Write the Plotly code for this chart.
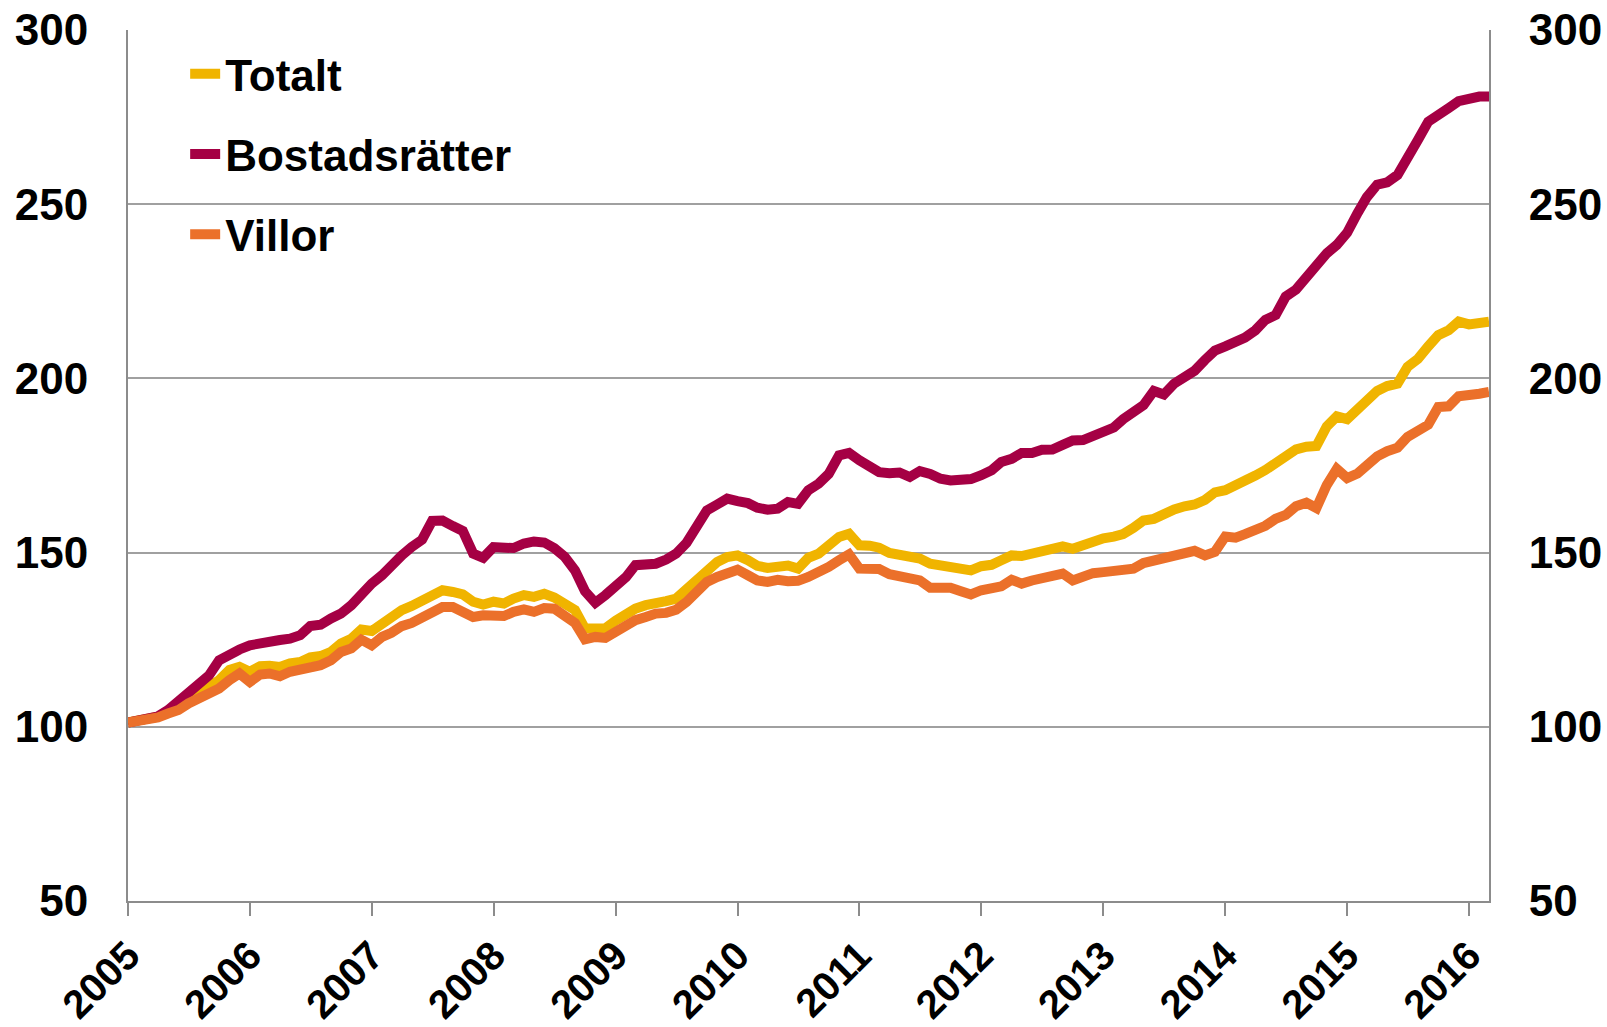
import pandas as pd
import plotly.graph_objects as go

# Monthly index values, Jan 2005 - Mar 2016
dates = pd.date_range("2005-01-01", periods=135, freq="MS")

totalt = [
    101.3, 101.8, 102.3, 102.9, 104.3, 105.3, 107.6, 109.1, 111.5, 113.4, 116.3, 117.2,
    115.8, 117.4, 117.5, 117.2, 118.2, 118.6, 119.9, 120.3, 121.5, 123.9, 125.3, 127.9,
    127.5, 129.8, 131.1, 133.5, 134.7, 136.3, 137.5, 139.2, 138.7, 138.0, 135.9, 135.1,
    135.9, 135.4, 136.8, 137.8, 137.3, 138.2, 137.1, 135.4, 133.5, 128.2, 128.3, 128.3,
    130.5, 132.5, 133.9, 134.9, 135.8, 136.1, 136.8, 139.7, 142.5, 145.4, 147.3, 148.7,
    149.2, 147.8, 146.2, 145.6, 146.3, 146.3, 145.4, 148.5, 149.7, 152.1, 154.5, 155.4,
    152.1, 152.0, 151.4, 149.9, 149.4, 148.9, 148.3, 146.8, 146.4, 146.4, 145.9, 144.9,
    146.1, 146.5, 147.8, 149.2, 149.0, 149.7, 150.7, 151.1, 151.8, 151.1, 152.3, 153.5,
    154.1, 154.6, 155.3, 157.1, 159.2, 159.7, 161.4, 162.4, 163.3, 163.8, 165.1, 167.3,
    167.9, 169.1, 170.4, 172.1, 173.7, 175.5, 177.8, 179.6, 180.4, 180.6, 186.2, 189.1,
    188.3, 190.8, 193.9, 196.4, 197.8, 198.5, 203.3, 205.6, 209.2, 212.4, 213.8, 216.3,
    215.5, 216.0, 216.3,
]

bostadsratter = [
    101.2, 101.6, 102.0, 103.0, 104.8, 107.2, 109.6, 112.4, 114.8, 119.1, 121.0, 122.2,
    123.4, 124.1, 124.5, 124.9, 125.3, 126.3, 128.9, 129.3, 131.1, 132.5, 134.9, 138.2,
    141.1, 143.5, 146.4, 149.2, 151.6, 153.7, 159.1, 159.2, 157.6, 156.2, 149.7, 148.5,
    151.6, 151.1, 151.3, 152.6, 153.2, 152.9, 151.3, 148.8, 144.9, 138.9, 135.6, 137.8,
    140.2, 143.0, 146.4, 146.5, 146.8, 148.0, 149.7, 152.8, 157.8, 162.1, 163.8, 165.5,
    164.8, 164.2, 162.9, 162.3, 162.6, 164.5, 164.0, 167.9, 169.8, 172.6, 177.9, 178.6,
    176.5, 174.7, 173.1, 172.8, 173.0, 171.7, 173.4, 172.6, 171.2, 170.7, 170.9, 171.1,
    172.2, 173.6, 176.0, 176.9, 178.6, 178.6, 179.5, 179.6, 180.9, 182.2, 182.3, 183.6,
    184.7, 185.9, 188.3, 190.3, 192.3, 196.4, 195.4, 198.5, 200.0, 202.2, 205.3, 208.0,
    209.2, 210.5, 211.7, 213.8, 216.8, 218.2, 223.5, 225.5, 229.1, 232.4, 235.9, 238.3,
    241.8, 247.4, 252.0, 255.6, 256.3, 258.4, 264.1, 268.4, 273.7, 276.0, 277.6, 279.6,
    280.6, 280.9, 280.9,
]

villor = [
    101.2, 101.7, 101.9, 102.7, 103.8, 104.8, 106.7, 108.1, 109.6, 111.0, 113.4, 115.3,
    112.9, 115.0, 115.3, 114.5, 115.8, 116.3, 117.4, 117.7, 119.1, 121.5, 122.5, 125.0,
    123.4, 125.8, 127.0, 128.9, 129.8, 131.5, 132.7, 134.4, 134.4, 133.0, 131.5, 132.0,
    132.0, 131.8, 133.0, 133.7, 133.0, 134.1, 133.9, 131.4, 129.8, 125.1, 125.8, 125.5,
    127.3, 129.1, 130.6, 131.5, 132.5, 132.7, 133.6, 135.8, 138.7, 141.6, 143.0, 144.4,
    145.1, 143.5, 142.0, 141.6, 142.2, 141.8, 141.9, 143.0, 144.2, 145.9, 147.8, 149.5,
    145.4, 145.4, 145.3, 143.8, 143.2, 143.0, 142.0, 139.9, 139.7, 139.9, 138.9, 138.0,
    139.2, 139.4, 140.3, 142.2, 141.1, 142.0, 142.8, 143.0, 144.0, 142.0, 143.3, 144.1,
    144.4, 144.6, 144.7, 145.4, 147.0, 147.8, 148.5, 149.5, 150.2, 150.5, 149.2, 150.2,
    154.6, 154.3, 155.3, 156.3, 157.7, 159.7, 160.8, 163.3, 164.3, 162.8, 169.4, 174.0,
    171.4, 172.7, 175.5, 177.6, 179.1, 180.1, 183.2, 184.7, 186.7, 191.8, 192.0, 194.9,
    194.9, 195.6, 196.1,
]

series_names = ["Totalt", "Bostadsrätter", "Villor"]
series_colors = ["#F0B400", "#A50044", "#EB702A"]
year_labels = [str(y) for y in range(2005, 2017)]
year_ticks = [f"{y}-01-01" for y in range(2005, 2017)]
y_ticks = [50, 100, 150, 200, 250, 300]

FONT = "Liberation Sans, Arial, sans-serif"
AXIS_GRAY = "#8C8C8C"

fig = go.Figure()

# invisible trace to activate right-hand axis
fig.add_trace(go.Scatter(
    x=dates, y=totalt, yaxis="y2", mode="lines",
    line=dict(color="rgba(0,0,0,0)", width=1),
    showlegend=False, hoverinfo="skip",
))

for name, color, vals in zip(series_names, series_colors, [totalt, bostadsratter, villor]):
    fig.add_trace(go.Scatter(
        x=dates, y=vals, mode="lines", name=name, legendgroup=name,
        line=dict(color=color, width=10),
    ))

ytickfont = dict(family=FONT, size=44, color="black", weight="bold")
xtickfont = dict(family=FONT, size=40, color="black", weight="bold")

fig.update_layout(
    width=1607, height=1027,
    margin=dict(l=128, r=118, t=30, b=126, autoexpand=False),
    paper_bgcolor="white", plot_bgcolor="white",
    showlegend=True,
    legend=dict(
        x=0.042, y=0.99, xanchor="left", yanchor="top",
        font=dict(family=FONT, size=44, color="black", weight="bold"),
        bgcolor="rgba(0,0,0,0)", tracegroupgap=20, traceorder="grouped",
    ),
    xaxis=dict(
        type="date", range=["2005-01-01", "2016-03-01"],
        tickvals=year_ticks, ticktext=year_labels, tickangle=-45,
        ticks="outside", ticklen=13, tickwidth=2, tickcolor=AXIS_GRAY,
        showline=True, linecolor=AXIS_GRAY, linewidth=2,
        showgrid=False, zeroline=False, tickfont=xtickfont, automargin=False,
        ticklabeloverflow="allow",
    ),
    yaxis=dict(
        range=[50, 300], tickvals=y_ticks, ticks="",
        showline=True, linecolor=AXIS_GRAY, linewidth=2,
        showgrid=True, gridcolor="#A0A0A0", gridwidth=2,
        zeroline=False, tickfont=ytickfont, ticklabelstandoff=29, automargin=False,
        ticklabeloverflow="allow",
    ),
    yaxis2=dict(
        range=[50, 300], tickvals=y_ticks, ticks="", overlaying="y", side="right",
        showline=True, linecolor=AXIS_GRAY, linewidth=2,
        showgrid=False, zeroline=False, tickfont=ytickfont, ticklabelstandoff=29,
        automargin=False, ticklabeloverflow="allow",
    ),
)

# remove the browser's default 8px body margin so the figure fills the window
fig.write_html(
    "out.html",
    config={"displayModeBar": False},
    post_script="document.body.style.margin='0px';",
)
